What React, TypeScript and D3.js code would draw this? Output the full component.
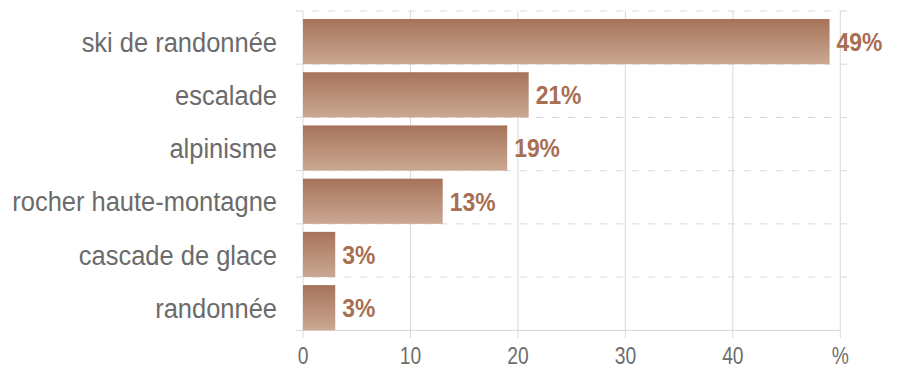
import React from "react";
import * as d3 from "d3";

const categories = [
  "ski de randonnée",
  "escalade",
  "alpinisme",
  "rocher haute-montagne",
  "cascade de glace",
  "randonnée",
];
const values = [49, 21, 19, 13, 3, 3];
const valueLabels = ["49%", "21%", "19%", "13%", "3%", "3%"];
const xTicks = [0, 10, 20, 30, 40, 50];
const xTickLabels = ["0", "10", "20", "30", "40", "%"];

const W = 898;
const H = 367;
const FONT = "'Liberation Sans', Arial, Helvetica, sans-serif";

export default function App() {
  const x = d3.scaleLinear().domain([0, 50]).range([303, 840.3]);
  const y = d3.scaleBand<string>().domain(categories).range([11, 330.3]).padding(0);
  const bw = y.bandwidth();
  const topGap = 8;
  const boundaries = d3.range(categories.length).map((i) => y(categories[i]) as number);
  const mid = (c: string) => (y(c) as number) + topGap + (bw - topGap) / 2;

  return (
    <svg
      width={W}
      height={H}
      style={{ position: "absolute", left: 0, top: 0, display: "block" }}
      xmlns="http://www.w3.org/2000/svg"
    >
      <defs>
        <linearGradient id="barGrad" x1="0" y1="0" x2="0" y2="1">
          <stop offset="0%" stopColor="#a7735a" />
          <stop offset="100%" stopColor="#caa892" />
        </linearGradient>
      </defs>
      <rect x={0} y={0} width={W} height={H} fill="#fff" />
      {xTicks.map((t) => (
        <line
          key={"g" + t}
          x1={x(t)}
          x2={x(t)}
          y1={11}
          y2={338}
          stroke="#d9d9d9"
          strokeWidth={1}
        />
      ))}
      {boundaries.map((b, i) => (
        <line
          key={"h" + i}
          x1={296}
          x2={847}
          y1={b}
          y2={b}
          stroke="#d9d9d9"
          strokeWidth={1}
          strokeDasharray="7,9"
        />
      ))}
      <line x1={296} x2={x(50)} y1={330.3} y2={330.3} stroke="#d4d4d4" strokeWidth={1} />
      {categories.map((c, i) => (
        <rect
          key={"b" + i}
          x={x(0)}
          y={(y(c) as number) + topGap}
          width={x(values[i]) - x(0)}
          height={bw - topGap}
          fill="url(#barGrad)"
        />
      ))}
      {categories.map((c, i) => (
        <text
          key={"v" + i}
          transform={`translate(${x(values[i]) + 7},${mid(c)}) scale(0.88,1)`}
          dy="0.36em"
          fontFamily={FONT}
          fontWeight="bold"
          fontSize={26}
          fill="#a86e51"
        >
          {valueLabels[i]}
        </text>
      ))}
      {categories.map((c, i) => (
        <text
          key={"c" + i}
          transform={`translate(277,${mid(c)}) scale(0.91,1)`}
          dy="0.36em"
          textAnchor="end"
          fontFamily={FONT}
          fontSize={28}
          fill="#6b6b6b"
        >
          {c}
        </text>
      ))}
      {xTicks.map((t, i) => (
        <text
          key={"t" + t}
          transform={`translate(${x(t)},364) scale(0.82,1)`}
          textAnchor="middle"
          fontFamily={FONT}
          fontSize={23.5}
          fill="#6e6e6e"
        >
          {xTickLabels[i]}
        </text>
      ))}
    </svg>
  );
}
